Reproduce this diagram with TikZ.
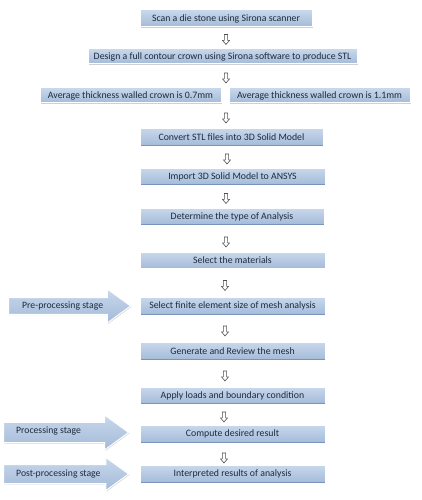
\documentclass[tikz,border=0pt]{standalone}
\usepackage{fontspec}
\setmainfont{Carlito}
\usetikzlibrary{shapes.arrows,shadows,calc}
\definecolor{boxtop}{HTML}{C8D8EC}
\definecolor{boxbot}{HTML}{A3BAD8}
\definecolor{bevel}{HTML}{7894BC}
\definecolor{txt}{HTML}{1E2B3C}
\definecolor{harrowc}{HTML}{505050}
\begin{document}
\begin{tikzpicture}[x=1pt,y=-1pt,
 box/.style={rectangle, inner sep=0pt, minimum height=17pt, top color=boxtop, bottom color=boxbot,
   draw=white, line width=1pt, text=txt, font=\fontsize{9.8}{11}\selectfont,
   drop shadow={shadow xshift=0.8pt, shadow yshift=-0.8pt, opacity=0.3, fill=black!60},
   path picture={\draw[bevel, line width=1.6pt] (path picture bounding box.south west) -- (path picture bounding box.south east);
     \draw[bevel!70!boxbot, line width=1.2pt] (path picture bounding box.south west) -- (path picture bounding box.north west);}},
 down/.style={single arrow, shape border rotate=270, draw=harrowc, fill=white, line width=0.6pt,
   minimum height=10pt, minimum width=7pt, inner sep=1.2pt, single arrow head extend=1.6pt, single arrow tip angle=80},
 stage/.style={single arrow, top color=boxtop, bottom color=boxbot, draw=white, line width=1pt,
   inner xsep=0pt, text height=6pt, text depth=2pt, single arrow tip angle=72, anchor=tip,
   drop shadow={shadow xshift=0.8pt, shadow yshift=-0.8pt, opacity=0.3, fill=black!60}},
 lbl/.style={anchor=west, inner sep=0pt, text=txt, font=\fontsize{9.7}{11}\selectfont}]
\useasboundingbox[fill=white] (0,0) rectangle (421,500);

\node[box, minimum width=172pt] (b1) at (226,18.5) {Scan a die stone using Sirona scanner};
\node[box, minimum width=269pt, minimum height=15pt] (b2) at (222.5,56.5) {Design a full contour crown using Sirona software to produce STL};
\node[box, minimum width=181pt, minimum height=15pt] (b3a) at (130.5,95.5) {Average thickness walled crown is 0.7mm};
\node[box, minimum width=181pt, minimum height=15pt] (b3b) at (319.5,95.5) {Average thickness walled crown is 1.1mm};
\node[box, minimum width=183pt, minimum height=18pt] (b4) at (231.5,137) {Convert STL files into 3D Solid Model};
\node[box, minimum width=185pt] (b5) at (232.5,176.5) {Import 3D Solid Model to ANSYS};
\node[box, minimum width=184pt] (b6) at (232,216.5) {Determine the type of Analysis};
\node[box, minimum width=185pt, minimum height=16pt] (b7) at (232.5,260.5) {Select the materials};
\node[box, minimum width=185pt, minimum height=18pt] (b8) at (232.5,306) {Select finite element size of mesh analysis};
\node[box, minimum width=185pt, minimum height=18pt] (b9) at (232.5,351) {Generate and Review the mesh};
\node[box, minimum width=185pt] (b10) at (232.5,395.5) {Apply loads and boundary condition};
\node[box, minimum width=185pt, minimum height=18pt] (b11) at (232.5,434) {Compute desired result};
\node[box, minimum width=185pt, minimum height=18pt] (b12) at (232.5,474) {Interpreted results of analysis};

\node[down] (a1) at (226,38.5) {};
\node[down] (a2) at (226,77) {};
\node[down] (a3) at (226,117) {};
\node[down] (a4) at (227,158) {};
\node[down] (a5) at (226,197.5) {};
\node[down] (a6) at (226,241) {};
\node[down] (a7) at (225,284.5) {};
\node[down] (a8) at (225,330) {};
\node[down] (a9) at (225,375) {};
\node[down] (a10) at (224,416) {};
\node[down] (a11) at (224,457) {};

\node[stage, minimum height=122pt, minimum width=34pt, inner ysep=2.5pt] (s1) at ($(b8.west)+(-8,0)$) {};
\node[stage, minimum height=125pt, minimum width=35pt, inner ysep=5.5pt] (s2) at ($(b11.west)+(-10,-1.5)$) {};
\node[stage, minimum height=125pt, minimum width=32pt, inner ysep=5pt] (s3) at ($(b12.west)+(-10,0)$) {};
\node[lbl] (l1) at (22,306) {Pre-processing stage};
\node[lbl] (l2) at (16,431) {Processing stage};
\node[lbl] (l3) at (16,474) {Post-processing stage};
\end{tikzpicture}
\end{document}
